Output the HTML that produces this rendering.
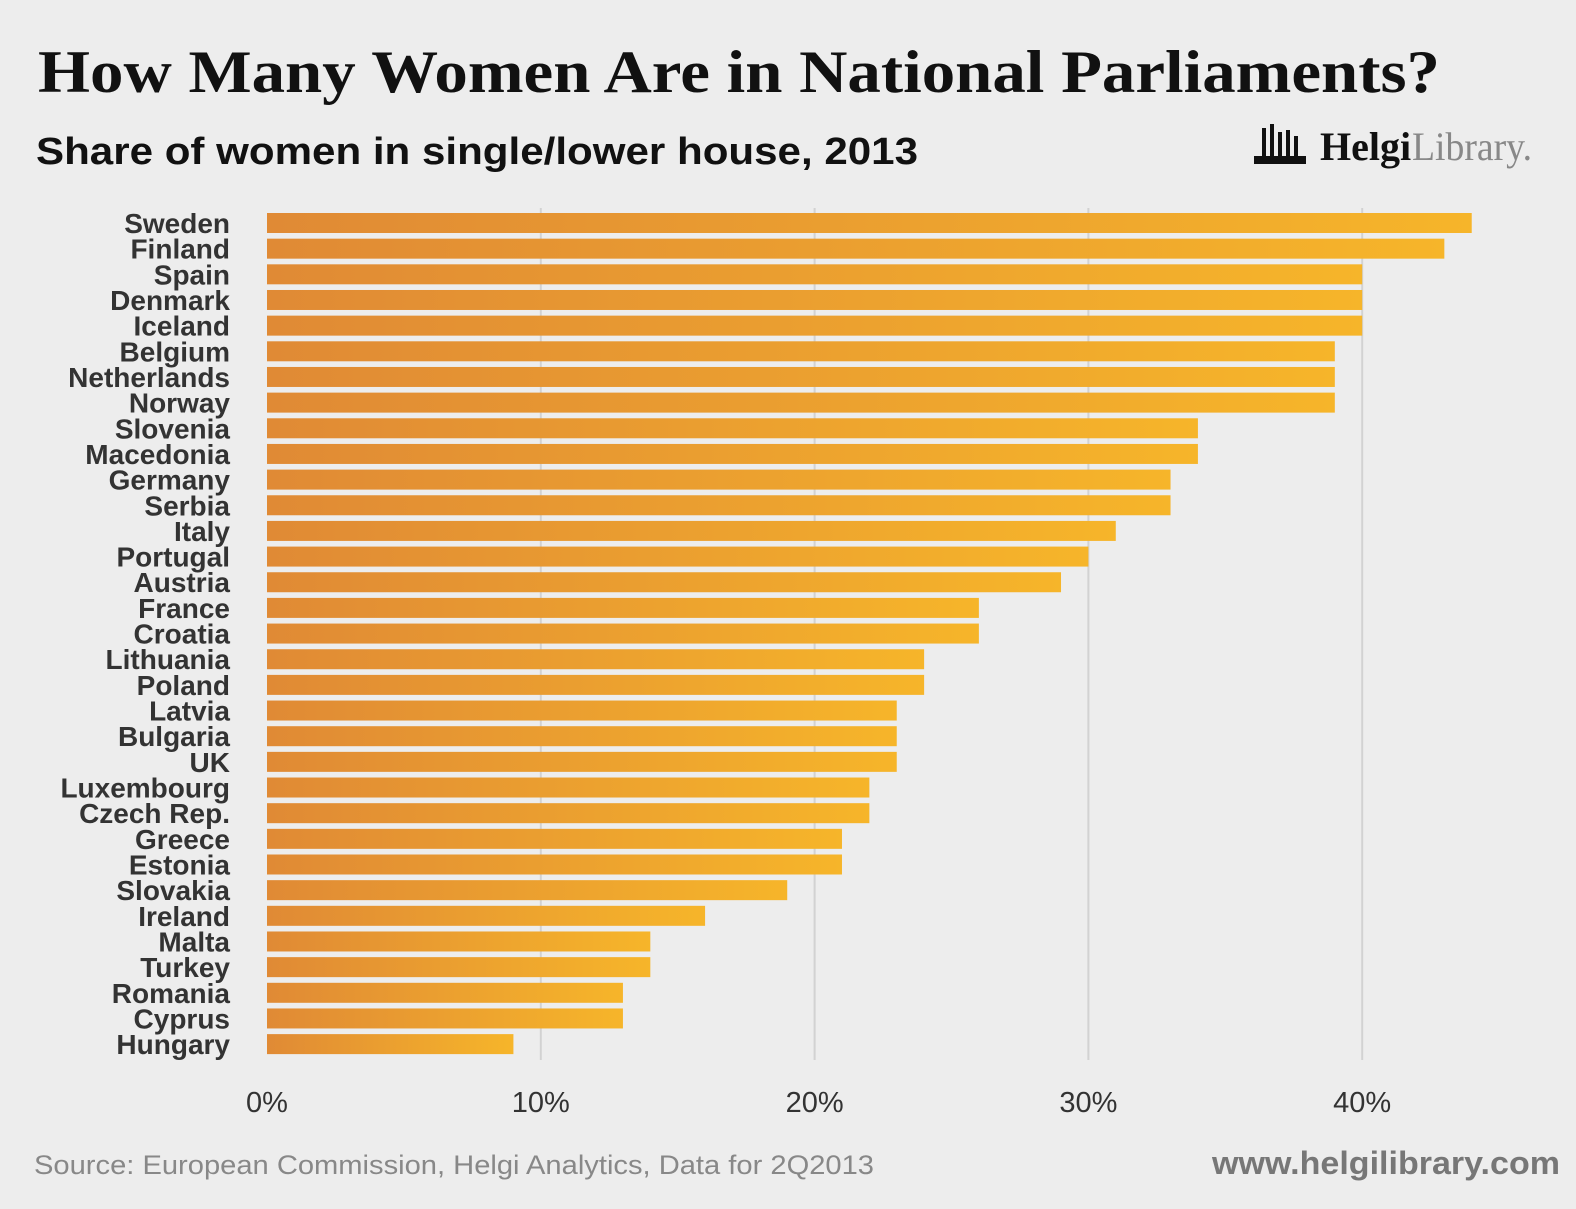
<!DOCTYPE html>
<html><head><meta charset="utf-8"><style>
body{margin:0;width:1576px;height:1204px;background:#ededed;overflow:hidden;font-family:"Liberation Sans",sans-serif;}
</style></head><body>
<svg width="1576" height="1204" xmlns="http://www.w3.org/2000/svg">
<defs><linearGradient id="g" x1="0" x2="1" y1="0" y2="0"><stop offset="0" stop-color="#e08a35"/><stop offset="1" stop-color="#f6b52a"/></linearGradient></defs>
<text x="38" y="92" font-family="Liberation Serif,serif" font-weight="bold" font-size="60" fill="#111" textLength="1402" lengthAdjust="spacingAndGlyphs">How Many Women Are in National Parliaments?</text>
<text x="36" y="164" font-size="38" font-weight="bold" fill="#111" textLength="882" lengthAdjust="spacingAndGlyphs">Share of women in single/lower house, 2013</text>
<g>
<g fill="#111"><rect x="1262" y="128" width="4" height="30"/><rect x="1270" y="124" width="4" height="34"/><rect x="1278" y="132" width="4" height="26"/><rect x="1286" y="130" width="4" height="28"/><rect x="1294" y="136" width="4" height="22"/><rect x="1254" y="156" width="52" height="8"/></g>
<text x="1320" y="160" font-family="Liberation Serif,serif" font-size="40" font-weight="bold" fill="#111">Helgi</text>
<text x="1412" y="160" font-family="Liberation Serif,serif" font-size="40" fill="#888" textLength="120" lengthAdjust="spacingAndGlyphs">Library.</text>
</g>
<g id="grid"></g><g id="bars"></g><g id="labels"></g><g id="ticks"></g>
<text x="34" y="1174" font-size="27" fill="#888" textLength="840" lengthAdjust="spacingAndGlyphs">Source: European Commission, Helgi Analytics, Data for 2Q2013</text>
<text x="1212" y="1174" font-size="32" font-weight="bold" fill="#777" textLength="348" lengthAdjust="spacingAndGlyphs">www.helgilibrary.com</text>
</svg>
<script>
const countries=["Sweden","Finland","Spain","Denmark","Iceland","Belgium","Netherlands","Norway","Slovenia","Macedonia","Germany","Serbia","Italy","Portugal","Austria","France","Croatia","Lithuania","Poland","Latvia","Bulgaria","UK","Luxembourg","Czech Rep.","Greece","Estonia","Slovakia","Ireland","Malta","Turkey","Romania","Cyprus","Hungary"];
const shares=[44,43,40,40,40,39,39,39,34,34,33,33,31,30,29,26,26,24,24,23,23,23,22,22,21,21,19,16,14,14,13,13,9];
const tickValues=[0,10,20,30,40];
const tickLabels=["0%","10%","20%","30%","40%"];
const NS="http://www.w3.org/2000/svg";
const x=v=>267+v*27.38;
const y=i=>223+i*25.66;
function mk(t,a,p){const e=document.createElementNS(NS,t);for(const k in a)e.setAttribute(k,a[k]);document.getElementById(p).appendChild(e);return e;}
tickValues.forEach((v,i)=>{
 if(v>0){const l=mk('line',{x1:x(v),x2:x(v),y1:208,y2:1060,stroke:'#d2d2d2','stroke-width':2},'grid');
 
 }
 const t=mk('text',{x:x(v),y:1112,'text-anchor':'middle','font-size':29,fill:'#333'},'ticks');t.textContent=tickLabels[i];
 
 
});
countries.forEach((c,i)=>{
 const r=mk('rect',{x:x(0),y:y(i)-10,width:x(shares[i])-x(0),height:20,fill:'url(#g)'},'bars');
 
 
 const t=mk('text',{x:230,y:y(i)+10,'text-anchor':'end','font-size':28,'font-weight':'bold',fill:'#333'},'labels');t.textContent=c;
 
 
});
</script>
</body></html>
